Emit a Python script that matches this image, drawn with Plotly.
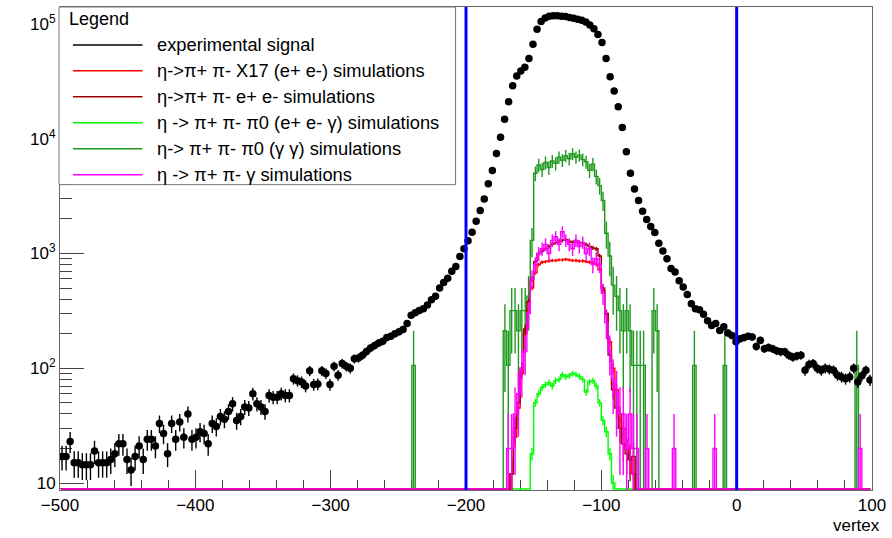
import numpy as np
import plotly.graph_objects as go

# ---------------- data ----------------
X_MIN, X_MAX = -500.0, 100.0
Y_LOG_MIN, Y_LOG_MAX = 0.939, 5.148

exp_bin_width = 3.0
exp_counts = [
    17, 17, 23, 15, 15, 14.4, 14.4, 14.4, 19, 15,
    15, 15, 16, 18, 22, 22, 16, 13, 17, 21,
    16, 24, 24, 21, 33, 27, 18, 33, 24, 34,
    25, 40, 24, 25, 28, 27, 22, 33, 31, 38,
    36, 42, 49, 35, 38, 46, 45, 60, 49, 46,
    42, 58, 56, 56, 60, 58, 58, 81, 78, 76,
    70, 95, 72, 73, 95, 90, 72, 104, 87, 110,
    104, 100, 121, 123, 130, 140, 150, 158, 166, 172,
    185, 190, 200, 208, 218, 245, 290, 305, 318, 330,
    355, 395, 425, 500, 560, 610, 700, 770, 940, 1100,
    1290, 1530, 1910, 2370, 2990, 4050, 5300, 7450, 10300, 14800,
    21000, 29000, 35300, 39000, 42000, 50000, 66500, 90000, 105000, 113000,
    117000, 118000, 118000, 117000, 116000, 114000, 112000, 110000, 108000, 104000,
    98000, 91000, 81000, 69000, 50000, 34700, 26000, 19000, 12500, 7700,
    5000, 3650, 2900, 2330, 1980, 1720, 1520, 1230, 1050, 900,
    740, 690, 580, 510, 440, 365, 330, 324, 295, 260,
    236, 245, 213, 230, 203, 193, 170, 181, 185, 190,
    187, 155, 175, 148, 152, 148, 142, 139, 139, 130,
    125, 128, 130, 96, 108, 110, 100, 96, 100, 98,
    96, 87, 84, 81, 84, 100, 76, 86, 96, 79,
]

# simulations: bins of 2.5, core region starts at left edge -175 (48 bins)
sim_bin_width = 2.5
sim_core_start = -175.0

gg_core = [  # eta -> pi+ pi- pi0 (gamma gamma)
    0, 212, 106, 318, 318, 212, 318, 318, 424, 1300,
    5000, 5900, 5400, 6200, 5600, 6400, 6100, 6900, 6500, 7100,
    6700, 7400, 6900, 7200, 6600, 6300, 5300, 6000, 4700, 3900,
    2900, 1500, 950, 530, 424, 318, 212, 318, 212, 106,
    106, 106, 106, 0, 0, 318, 212, 0,
]
gg_spike_x = [-240.0, -32.5, -10.0, 87.5]
gg_spike_v = [106, 106, 106, 106]
gg_weight = 106.0

eeg_core = [  # eta -> pi+ pi- pi0 (e+ e- gamma)
    0, 0, 0, 0, 0, 0, 0, 0, 0, 18,
    50, 60, 68, 72, 75, 70, 78, 80, 88, 84,
    86, 90, 88, 85, 80, 62, 76, 78, 70, 50,
    35, 28, 18, 10, 0, 0, 0, 0, 0, 0,
    0, 0, 0, 0, 0, 0, 0, 0,
]
eeg_weight = 0.3

x17_core = [  # eta -> pi+ pi- X17 (e+ e-)
    0, 0, 0, 12, 25, 45, 90, 200, 320, 500,
    680, 800, 840, 850, 860, 870, 870, 880, 880, 890,
    880, 870, 870, 860, 860, 850, 840, 830, 810, 720,
    480, 300, 170, 100, 65, 40, 30, 20, 16, 12,
    0, 0, 0, 0, 0, 0, 0, 0,
]
x17_weight = 1.0

ee_core = [  # eta -> pi+ pi- e+ e-
    0, 0, 0, 12, 30, 50, 100, 220, 380, 600,
    850, 1000, 1050, 1100, 1150, 1200, 1250, 1280, 1300, 1320,
    1280, 1250, 1290, 1250, 1230, 1200, 1150, 1120, 1100, 950,
    500, 300, 130, 65, 45, 30, 22, 18, 16, 17,
    0, 0, 0, 0, 0, 0, 0, 0,
]
ee_weight = 2.0

gam_core = [  # eta -> pi+ pi- gamma
    0, 0, 20, 20, 40, 60, 100, 140, 300, 600,
    800, 1000, 1100, 1200, 1000, 1300, 1400, 1200, 1550, 1300,
    1200, 1100, 1300, 1150, 1250, 1000, 1100, 800, 900, 800,
    450, 250, 140, 80, 60, 40, 40, 20, 40, 20,
    20, 0, 0, 20, 0, 0, 0, 0,
]
gam_spike_x = [-47.5, -17.5, 90.0]
gam_spike_v = [20, 20, 20]
gam_weight = 20.0

cut_lines = [-200.0, 0.0]

legend_labels = [
    "experimental signal",
    "η->π+ π- X17 (e+ e-) simulations",
    "η->π+ π- e+ e- simulations",
    "η -> π+ π- π0 (e+ e- γ) simulations",
    "η-> π+ π- π0 (γ γ) simulations",
    "η -> π+ π- γ simulations",
]
x_tick_vals = [-500, -400, -300, -200, -100, 0, 100]
y_tick_vals = [10, 100, 1000, 10000, 100000]
y_tick_text = ["10", "10<sup>2</sup>", "10<sup>3</sup>", "10<sup>4</sup>", "10<sup>5</sup>"]

# ---------------- colours ----------------
C_BLACK = "#000000"
C_RED = "#ff0000"
C_DRED = "#990000"
C_LGREEN = "#00ff00"
C_DGREEN = "#1f991f"
C_MAG = "#ff00ff"
C_BLUE = "#0000ff"
FONT = "Liberation Sans, Arial, Helvetica, sans-serif"

# ---------------- build histograms ----------------
n_sim = int(round((X_MAX - X_MIN) / sim_bin_width))
sim_centers = X_MIN + sim_bin_width * (np.arange(n_sim) + 0.5)


def build(core, spike_x=(), spike_v=()):
    full = np.zeros(n_sim)
    i0 = int(round((sim_core_start - X_MIN) / sim_bin_width))
    full[i0:i0 + len(core)] = core
    for x, v in zip(spike_x, spike_v):
        full[int(round((x - X_MIN) / sim_bin_width))] = v
    return full


# empty bins are drawn along the bottom of the frame (ROOT log-scale behaviour)
floor_val = 10 ** (Y_LOG_MIN + 1.0 / 115)

fig = go.Figure()


def add_hist(vals, weight, color):
    vals = np.asarray(vals, dtype=float)
    yplot = np.where(vals > 0, vals, floor_val)
    err = np.sqrt(vals * weight)
    fig.add_trace(go.Scatter(
        x=sim_centers, y=yplot, mode="lines",
        line=dict(color=color, width=1.4, shape="hvh"),
        error_y=dict(type="data", array=err, visible=True, color=color,
                     thickness=1.4, width=0),
        showlegend=False, hoverinfo="skip"))


add_hist(build(gg_core, gg_spike_x, gg_spike_v), gg_weight, C_DGREEN)
add_hist(build(eeg_core), eeg_weight, C_LGREEN)
add_hist(build(x17_core), x17_weight, C_RED)
add_hist(build(ee_core), ee_weight, C_DRED)
add_hist(build(gam_core, gam_spike_x, gam_spike_v), gam_weight, C_MAG)

exp_counts_arr = np.asarray(exp_counts, dtype=float)
exp_centers = X_MIN + exp_bin_width * (np.arange(len(exp_counts_arr)) + 0.5)
fig.add_trace(go.Scatter(
    x=exp_centers, y=exp_counts_arr, mode="markers",
    marker=dict(color=C_BLACK, size=7.5, symbol="circle"),
    error_y=dict(type="data", array=np.sqrt(exp_counts_arr), visible=True,
                 color=C_BLACK, thickness=1.4, width=0),
    error_x=dict(type="constant", value=exp_bin_width / 2, visible=True,
                 color=C_BLACK, thickness=1.4, width=0),
    showlegend=False, hoverinfo="skip"))

# ---------------- layout ----------------
W, H = 892, 538
ML, MR, MT, MB = 60, 15, 6, 48
PW, PH = W - ML - MR, H - MT - MB


def px_x(px):
    return (px - ML) / PW


def px_y(py):
    return (H - MB - py) / PH


shapes = []
for xv in cut_lines:
    shapes.append(dict(type="line", xref="x", yref="paper", x0=xv, x1=xv,
                       y0=0, y1=1, line=dict(color=C_BLUE, width=3), layer="above"))

# legend box
shapes.append(dict(type="rect", xref="paper", yref="paper",
                   x0=px_x(59), x1=px_x(458), y0=px_y(184), y1=px_y(6),
                   fillcolor="white", line=dict(color="#777777", width=1), layer="above"))
annotations = [dict(text="Legend", xref="paper", yref="paper", x=px_x(67), y=px_y(18),
                    xanchor="left", yanchor="middle", showarrow=False,
                    font=dict(family=FONT, size=18, color="black"))]
leg_colors = [C_BLACK, C_RED, C_DRED, C_LGREEN, C_DGREEN, C_MAG]
for i, (lab, col) in enumerate(zip(legend_labels, leg_colors)):
    ry = 44 + 26 * i
    shapes.append(dict(type="line", xref="paper", yref="paper",
                       x0=px_x(73), x1=px_x(143), y0=px_y(ry), y1=px_y(ry),
                       line=dict(color=col, width=1.5), layer="above"))
    annotations.append(dict(text=lab, xref="paper", yref="paper", x=px_x(156), y=px_y(ry),
                            xanchor="left", yanchor="middle", showarrow=False,
                            font=dict(family=FONT, size=18.3, color="black")))

annotations.append(dict(text="vertex", xref="paper", yref="paper", x=px_x(887), y=px_y(526),
                        xanchor="right", yanchor="middle", showarrow=False,
                        font=dict(family=FONT, size=17, color="black")))

y_minor = []
for d in range(0, 6):
    for k in range(2, 10):
        v = k * 10 ** d
        if 10 ** Y_LOG_MIN < v < 10 ** Y_LOG_MAX:
            y_minor.append(v)

fig.update_layout(
    width=W, height=H,
    margin=dict(l=ML, r=MR, t=MT, b=MB, pad=0),
    paper_bgcolor="white", plot_bgcolor="white",
    showlegend=False,
    font=dict(family=FONT, size=17, color="black"),
    shapes=shapes, annotations=annotations,
    xaxis=dict(range=[X_MIN, X_MAX], tickvals=x_tick_vals, ticks="inside", ticklen=20,
               tickwidth=1, tickcolor="#444444", showline=True, linecolor="#666666",
               linewidth=1, mirror=True, showgrid=False, zeroline=False,
               layer="below traces",
               tickfont=dict(family=FONT, size=17, color="black"),
               minor=dict(dtick=20, ticks="inside", ticklen=10, tickcolor="#444444", showgrid=False)),
    yaxis=dict(type="log", range=[Y_LOG_MIN, Y_LOG_MAX], tickvals=y_tick_vals, ticktext=y_tick_text,
               ticks="inside", ticklen=24, tickwidth=1, tickcolor="#444444",
               showline=True, linecolor="#666666", linewidth=1, mirror=True,
               showgrid=False, zeroline=False, layer="below traces",
               tickfont=dict(family=FONT, size=17, color="black"),
               minor=dict(tickmode="array", tickvals=y_minor, ticks="inside", ticklen=12,
                          tickcolor="#444444", showgrid=False)),
)

fig.write_html("out.html")
